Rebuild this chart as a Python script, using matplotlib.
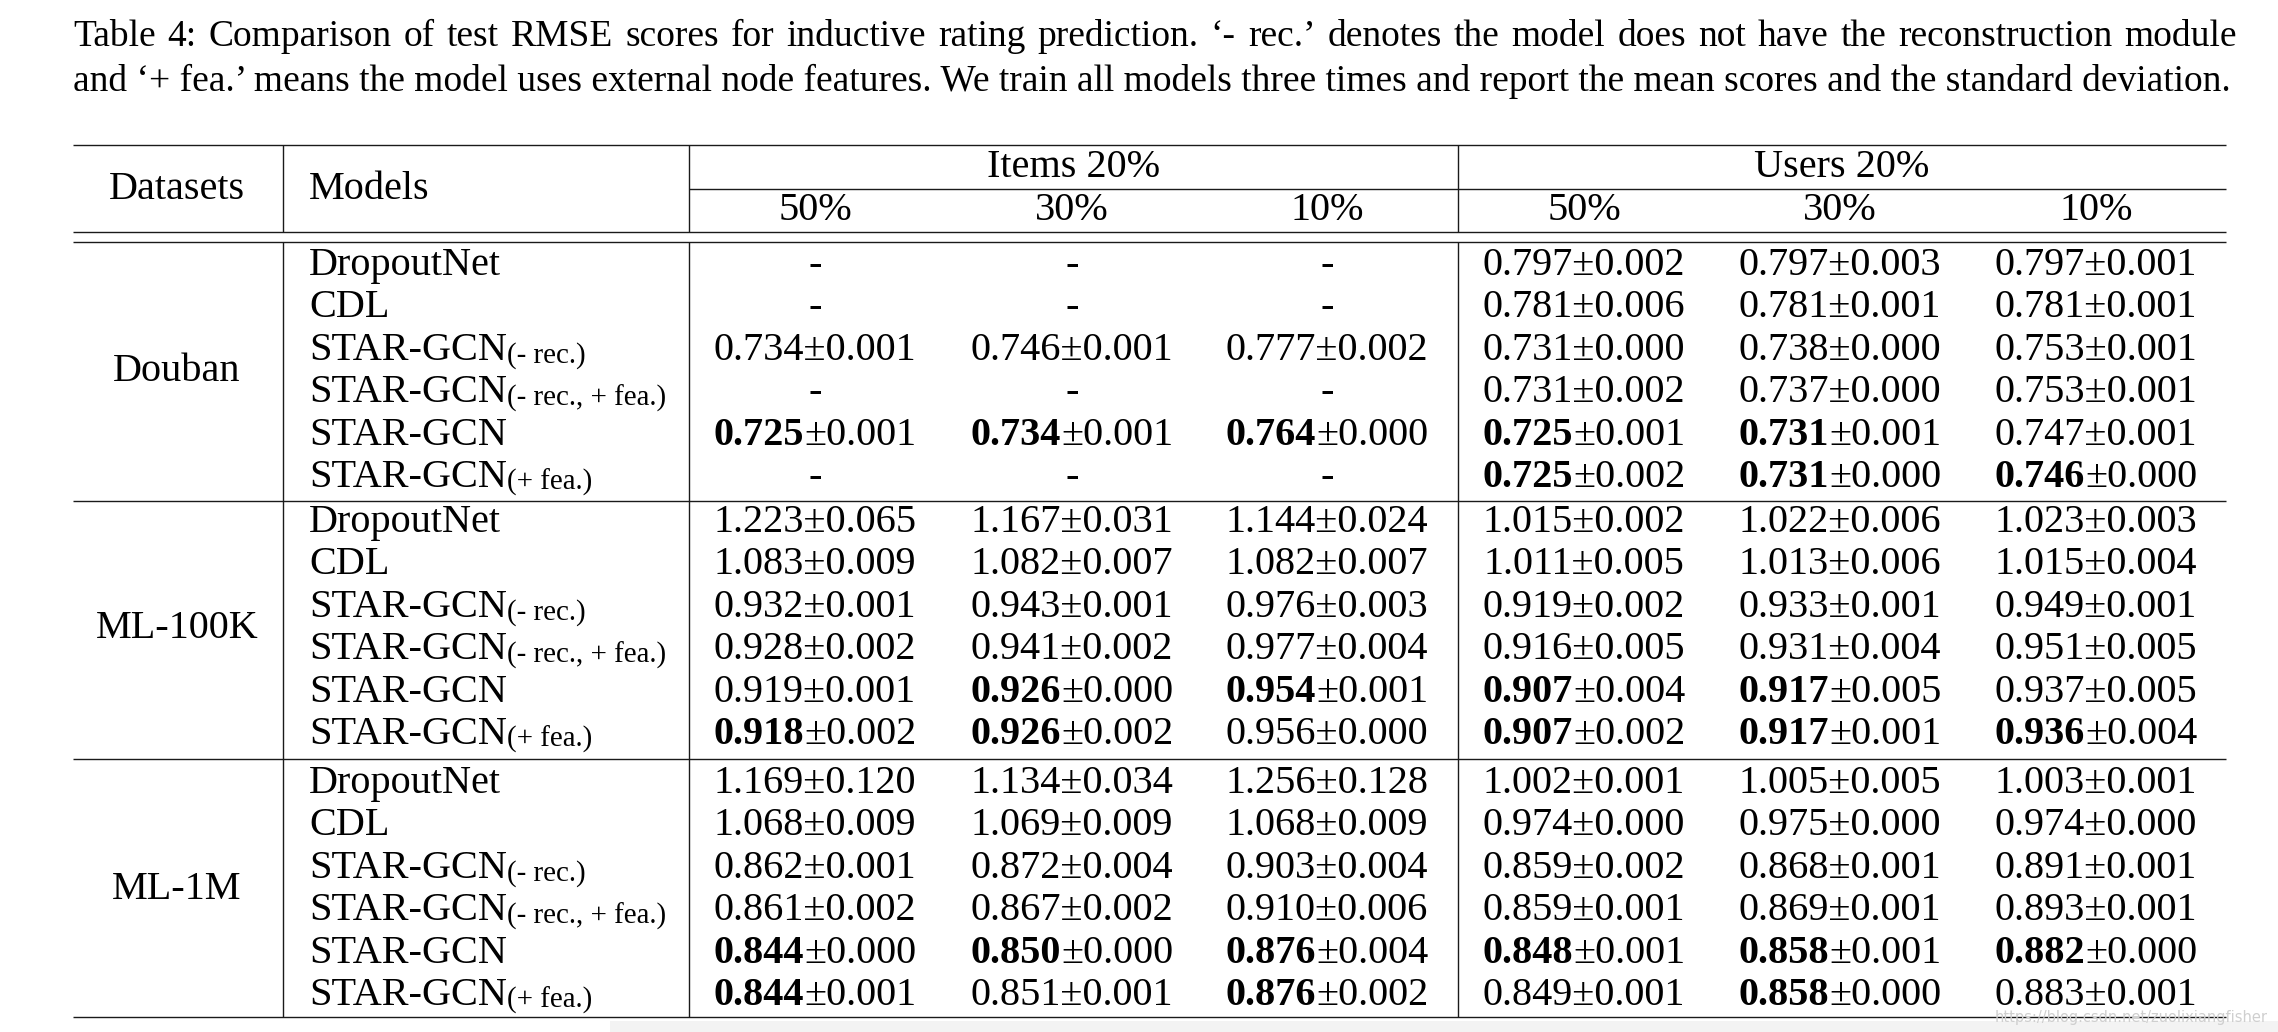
import matplotlib
matplotlib.use("Agg")
import matplotlib.pyplot as plt

# ---------------- data ----------------
caption_line1 = ("Table 4: Comparison of test RMSE scores for inductive rating prediction. "
                 "\u2018- rec.\u2019 denotes the model does not have the reconstruction module")
caption_line2 = ("and \u2018+ fea.\u2019 means the model uses external node features. "
                 "We train all models three times and report the mean scores and the standard deviation.")

header_datasets = "Datasets"
header_models = "Models"
col_groups = ["Items 20%", "Users 20%"]
col_pcts = ["50%", "30%", "10%", "50%", "30%", "10%"]

datasets = ["Douban", "ML-100K", "ML-1M"]
model_names = ["DropoutNet", "CDL", "STAR-GCN", "STAR-GCN", "STAR-GCN", "STAR-GCN"]
model_subs = ["", "", "(- rec.)", "(- rec., + fea.)", "", "(+ fea.)"]

douban_vals = [
    ["-", "-", "-", "0.797\u00b10.002", "0.797\u00b10.003", "0.797\u00b10.001"],
    ["-", "-", "-", "0.781\u00b10.006", "0.781\u00b10.001", "0.781\u00b10.001"],
    ["0.734\u00b10.001", "0.746\u00b10.001", "0.777\u00b10.002", "0.731\u00b10.000", "0.738\u00b10.000", "0.753\u00b10.001"],
    ["-", "-", "-", "0.731\u00b10.002", "0.737\u00b10.000", "0.753\u00b10.001"],
    ["0.725\u00b10.001", "0.734\u00b10.001", "0.764\u00b10.000", "0.725\u00b10.001", "0.731\u00b10.001", "0.747\u00b10.001"],
    ["-", "-", "-", "0.725\u00b10.002", "0.731\u00b10.000", "0.746\u00b10.000"],
]
douban_bold = [
    [0, 0, 0, 0, 0, 0],
    [0, 0, 0, 0, 0, 0],
    [0, 0, 0, 0, 0, 0],
    [0, 0, 0, 0, 0, 0],
    [1, 1, 1, 1, 1, 0],
    [0, 0, 0, 1, 1, 1],
]
ml100k_vals = [
    ["1.223\u00b10.065", "1.167\u00b10.031", "1.144\u00b10.024", "1.015\u00b10.002", "1.022\u00b10.006", "1.023\u00b10.003"],
    ["1.083\u00b10.009", "1.082\u00b10.007", "1.082\u00b10.007", "1.011\u00b10.005", "1.013\u00b10.006", "1.015\u00b10.004"],
    ["0.932\u00b10.001", "0.943\u00b10.001", "0.976\u00b10.003", "0.919\u00b10.002", "0.933\u00b10.001", "0.949\u00b10.001"],
    ["0.928\u00b10.002", "0.941\u00b10.002", "0.977\u00b10.004", "0.916\u00b10.005", "0.931\u00b10.004", "0.951\u00b10.005"],
    ["0.919\u00b10.001", "0.926\u00b10.000", "0.954\u00b10.001", "0.907\u00b10.004", "0.917\u00b10.005", "0.937\u00b10.005"],
    ["0.918\u00b10.002", "0.926\u00b10.002", "0.956\u00b10.000", "0.907\u00b10.002", "0.917\u00b10.001", "0.936\u00b10.004"],
]
ml100k_bold = [
    [0, 0, 0, 0, 0, 0],
    [0, 0, 0, 0, 0, 0],
    [0, 0, 0, 0, 0, 0],
    [0, 0, 0, 0, 0, 0],
    [0, 1, 1, 1, 1, 0],
    [1, 1, 0, 1, 1, 1],
]
ml1m_vals = [
    ["1.169\u00b10.120", "1.134\u00b10.034", "1.256\u00b10.128", "1.002\u00b10.001", "1.005\u00b10.005", "1.003\u00b10.001"],
    ["1.068\u00b10.009", "1.069\u00b10.009", "1.068\u00b10.009", "0.974\u00b10.000", "0.975\u00b10.000", "0.974\u00b10.000"],
    ["0.862\u00b10.001", "0.872\u00b10.004", "0.903\u00b10.004", "0.859\u00b10.002", "0.868\u00b10.001", "0.891\u00b10.001"],
    ["0.861\u00b10.002", "0.867\u00b10.002", "0.910\u00b10.006", "0.859\u00b10.001", "0.869\u00b10.001", "0.893\u00b10.001"],
    ["0.844\u00b10.000", "0.850\u00b10.000", "0.876\u00b10.004", "0.848\u00b10.001", "0.858\u00b10.001", "0.882\u00b10.000"],
    ["0.844\u00b10.001", "0.851\u00b10.001", "0.876\u00b10.002", "0.849\u00b10.001", "0.858\u00b10.000", "0.883\u00b10.001"],
]
ml1m_bold = [
    [0, 0, 0, 0, 0, 0],
    [0, 0, 0, 0, 0, 0],
    [0, 0, 0, 0, 0, 0],
    [0, 0, 0, 0, 0, 0],
    [1, 1, 1, 1, 1, 1],
    [1, 0, 1, 0, 1, 0],
]
all_vals = [douban_vals, ml100k_vals, ml1m_vals]
all_bold = [douban_bold, ml100k_bold, ml1m_bold]
watermark = "https://blog.csdn.net/zuolixiangfisher"

# ---------------- layout ----------------
W, H = 2278, 1032
FONT = "Liberation Serif"
FS = 29.0
SUB_FS = FS * 0.72
SUB_DROP = 3

fig = plt.figure(figsize=(W / 100, H / 100), dpi=100)
fig.patch.set_facecolor("white")
ax = fig.add_axes([0, 0, 1, 1])
ax.set_xlim(0, W)
ax.set_ylim(H, 0)
ax.axis("off")
renderer = fig.canvas.get_renderer()


def tw(s, size, weight="normal"):
    t = ax.text(0, 0, s, fontsize=size, fontfamily=FONT, fontweight=weight)
    w = t.get_window_extent(renderer=renderer).width
    t.remove()
    return w


def runs(x, y, parts, ha="left"):
    widths = [tw(s, sz, wt) for s, sz, wt, dy in parts]
    total = sum(widths)
    if ha == "center":
        x0 = x - total / 2
    elif ha == "right":
        x0 = x - total
    else:
        x0 = x
    for (s, sz, wt, dy), w in zip(parts, widths):
        ax.text(x0, y + dy, s, fontsize=sz, fontfamily=FONT, fontweight=wt,
                ha="left", va="baseline", color="black")
        x0 += w


# caption: line 1 justified, line 2 natural width
cap_left, cap_right, line2_right = 73, 2237, 2233
CAP_FS = FS * (line2_right - cap_left) / tw(caption_line2, FS)
words = caption_line1.split(" ")
ww = [tw(w_, CAP_FS) for w_ in words]
gap = (cap_right - cap_left - sum(ww)) / (len(words) - 1)
x = cap_left
for w_, wd in zip(words, ww):
    ax.text(x, 46, w_, fontsize=CAP_FS, fontfamily=FONT, ha="left", va="baseline")
    x += wd + gap
ax.text(cap_left, 91, caption_line2, fontsize=CAP_FS, fontfamily=FONT, ha="left", va="baseline")

# rules
LC = "#1a1a1a"
x_l, x_r = 73, 2226
v1, v2, v3 = 282.5, 689, 1458
lw = 1.0
for yy in [145, 232, 242, 501, 759, 1017]:
    ax.plot([x_l, x_r], [yy, yy], color=LC, lw=lw, solid_capstyle="butt")
ax.plot([v2, x_r], [189, 189], color=LC, lw=lw, solid_capstyle="butt")
for vx in [v1, v2, v3]:
    ax.plot([vx, vx], [145, 232], color=LC, lw=lw, solid_capstyle="butt")
    ax.plot([vx, vx], [242, 1017], color=LC, lw=lw, solid_capstyle="butt")

# header
ax.text(177, 199, header_datasets, fontsize=FS, fontfamily=FONT, ha="center", va="baseline")
ax.text(309, 199, header_models, fontsize=FS, fontfamily=FONT, ha="left", va="baseline")
ax.text((v2 + v3) / 2, 177, col_groups[0], fontsize=FS, fontfamily=FONT, ha="center", va="baseline")
ax.text((v3 + x_r) / 2, 177, col_groups[1], fontsize=FS, fontfamily=FONT, ha="center", va="baseline")
col_x = [815, 1072, 1327, 1584, 1840, 2096]
for cx, p in zip(col_x, col_pcts):
    ax.text(cx, 220, p, fontsize=FS, fontfamily=FONT, ha="center", va="baseline")

# body
first_base = [275, 532, 793]
STEP = 42.4
for d, name in enumerate(datasets):
    bases = [first_base[d] + i * STEP for i in range(6)]
    ax.text(177, (bases[0] + bases[-1]) / 2, name, fontsize=FS, fontfamily=FONT,
            ha="center", va="baseline")
    for i in range(6):
        y = bases[i]
        parts = [(model_names[i], FS, "normal", 0)]
        if model_subs[i]:
            parts.append((model_subs[i], SUB_FS, "normal", SUB_DROP))
        runs(309, y, parts, ha="left")
        for j in range(6):
            v = all_vals[d][i][j]
            if v == "-":
                ax.text(col_x[j], y, "-", fontsize=FS, fontfamily=FONT, ha="center", va="baseline")
                continue
            mean, std = v.split("\u00b1")
            if all_bold[d][i][j]:
                parts = [(mean, FS, "bold", 0), ("\u00b1" + std, FS, "normal", 0)]
            else:
                parts = [(v, FS, "normal", 0)]
            runs(col_x[j], y, parts, ha="center")

# bottom grey band + watermark
ax.fill_between([610, W], 1021, H, color="#f3f3f3", lw=0, zorder=0)
ax.text(2268, 1022, watermark, fontsize=10.5, fontfamily="DejaVu Sans", color="#cfcfcf",
        ha="right", va="baseline")

fig.savefig("out.png", dpi=100, facecolor="white")
